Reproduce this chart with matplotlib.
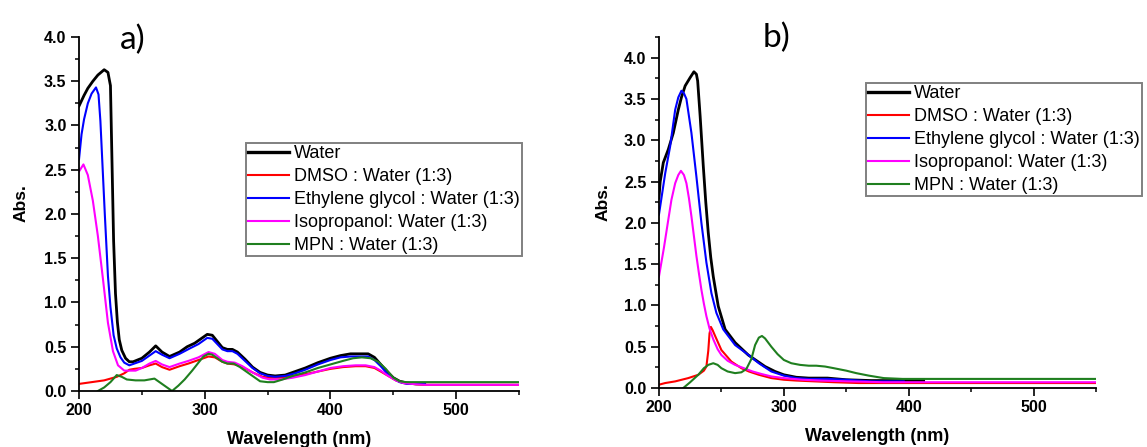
import matplotlib
matplotlib.use("Agg")
import matplotlib.pyplot as plt
from matplotlib.ticker import MultipleLocator, FormatStrFormatter

plt.rcParams['font.family'] = ['Liberation Sans', 'DejaVu Sans']

labels = ["Water", "DMSO : Water (1:3)", "Ethylene glycol : Water (1:3)",
          "Isopropanol: Water (1:3)", "MPN : Water (1:3)"]
colors = ["#000000", "#ff0000", "#0000ff", "#ff00ff", "#1f7f1f"]

# ---- panel a) spectra ----
a_water_wl = [200, 204, 207, 211, 215, 220, 223, 225, 226, 227.5, 229, 230.5, 232, 234, 237, 240,
              243, 250, 256, 261, 266, 272, 280, 286, 292, 297, 302, 306, 310, 314, 318, 322,
              326, 332, 338, 344, 350, 356, 364, 372, 380, 390, 400, 408, 416, 424, 430, 435,
              440, 445, 450, 455, 461, 468, 475]
a_water = [3.22, 3.34, 3.42, 3.5, 3.57, 3.63, 3.6, 3.45, 2.75, 1.7, 1.1, 0.78, 0.58, 0.46, 0.37, 0.33,
           0.33, 0.37, 0.44, 0.51, 0.44, 0.39, 0.44, 0.5, 0.54, 0.59, 0.64, 0.63, 0.56, 0.49, 0.47, 0.47,
           0.44, 0.36, 0.27, 0.21, 0.18, 0.17, 0.18, 0.22, 0.26, 0.32, 0.37, 0.4, 0.42, 0.42, 0.42, 0.38,
           0.3, 0.22, 0.15, 0.11, 0.09, 0.08, 0.08]

a_dmso_wl = [200, 210, 220, 230, 236, 240, 244, 250, 256, 261, 266, 272, 280, 287, 295,
             303, 308, 314, 318, 324, 330, 338, 346, 352, 360, 370, 380, 390, 400, 410,
             420, 428, 435, 440, 446, 452, 458, 465, 475, 490, 510, 530, 550]
a_dmso = [0.08, 0.1, 0.12, 0.16, 0.2, 0.24, 0.25, 0.26, 0.29, 0.31, 0.27, 0.24, 0.28, 0.31, 0.35,
          0.39, 0.38, 0.33, 0.31, 0.3, 0.27, 0.21, 0.16, 0.15, 0.15, 0.17, 0.19, 0.22, 0.25, 0.27,
          0.28, 0.28, 0.26, 0.22, 0.17, 0.12, 0.09, 0.08, 0.07, 0.07, 0.07, 0.07, 0.07]

a_eg_wl = [200, 202, 204, 207, 210, 213.5, 215.5, 217, 218.5, 220.5, 223, 225, 227.5, 230, 233,
           236, 240, 250, 256, 261, 266, 272, 280, 288, 295, 302, 306, 310, 314, 318, 322, 326,
           332, 338, 344, 350, 356, 364, 372, 380, 390, 400, 408, 416, 424, 430, 435, 440, 445,
           450, 455, 461, 468, 475]
a_eg = [2.62, 2.9, 3.07, 3.25, 3.36, 3.43, 3.35, 3.05, 2.6, 2.0, 1.3, 0.95, 0.63, 0.48, 0.38,
        0.32, 0.29, 0.34, 0.4, 0.45, 0.41, 0.37, 0.42, 0.48, 0.53, 0.6, 0.59, 0.53, 0.47, 0.45, 0.45, 0.42,
        0.34, 0.26, 0.2, 0.17, 0.16, 0.17, 0.2, 0.24, 0.3, 0.35, 0.38, 0.39, 0.39, 0.39, 0.35, 0.28, 0.2,
        0.14, 0.1, 0.08, 0.08, 0.08]

a_ipa_wl = [200, 203.5, 207, 211, 215, 219, 223, 227, 231, 236, 240, 245, 250,
            256, 261, 266, 272, 280, 287, 295, 303, 308, 314, 318, 324, 330, 338, 346, 352,
            360, 370, 380, 390, 400, 410, 420, 428, 435, 440, 446, 452, 458, 465, 475, 490,
            510, 530, 550]
a_ipa = [2.48, 2.56, 2.44, 2.15, 1.75, 1.27, 0.77, 0.45, 0.29, 0.23, 0.23, 0.23, 0.26,
         0.31, 0.34, 0.3, 0.27, 0.31, 0.34, 0.38, 0.44, 0.42, 0.35, 0.33, 0.32, 0.28, 0.21, 0.15, 0.13,
         0.13, 0.15, 0.18, 0.22, 0.26, 0.28, 0.29, 0.29, 0.27, 0.23, 0.17, 0.12, 0.09, 0.08, 0.07, 0.07,
         0.07, 0.07, 0.07]

a_mpn_wl = [215, 220, 225, 230, 234, 238, 245, 252, 260, 264, 269, 274, 279, 284, 290, 295,
            299, 303, 306, 310, 314, 318, 323, 328, 335, 344, 350, 355, 362, 370, 380, 390,
            400, 410, 418, 425, 432, 438, 444, 450, 455, 460, 470, 490, 510, 530, 550]
a_mpn = [0.0, 0.04, 0.1, 0.18, 0.16, 0.13, 0.12, 0.12, 0.14, 0.1, 0.05, 0.0, 0.06, 0.13, 0.23, 0.32,
         0.39, 0.42, 0.41, 0.37, 0.33, 0.31, 0.31, 0.27, 0.2, 0.11, 0.1, 0.1, 0.13, 0.17, 0.21, 0.26,
         0.3, 0.34, 0.37, 0.38, 0.37, 0.33, 0.25, 0.15, 0.11, 0.1, 0.1, 0.1, 0.1, 0.1, 0.1]

# ---- panel b) spectra ----
b_water_wl = [200, 201, 203.5, 207.5, 211.5, 215.5, 218, 221, 225, 228, 230, 231, 233, 235.5,
              237.5, 239.5, 241.5, 243.5, 247.5, 253, 261, 271.5, 285, 293, 300, 310, 320, 335,
              350, 370, 390, 412]
b_water = [2.3, 2.5, 2.73, 2.89, 3.09, 3.37, 3.52, 3.66, 3.76, 3.83, 3.8, 3.72, 3.29, 2.69,
           2.25, 1.88, 1.58, 1.35, 0.99, 0.71, 0.55, 0.4, 0.26, 0.2, 0.16, 0.13, 0.12, 0.12,
           0.1, 0.09, 0.09, 0.09]

b_dmso_wl = [200, 205, 213, 223.5, 231.5, 236, 238, 239.5, 240.5, 241.6, 243, 245, 250,
             258, 266, 272, 280, 290, 300, 310, 325, 340, 360, 400, 450, 500, 550]
b_dmso = [0.04, 0.06, 0.08, 0.12, 0.16, 0.21, 0.26, 0.45, 0.66, 0.74, 0.7, 0.63, 0.46,
          0.32, 0.24, 0.2, 0.16, 0.12, 0.1, 0.09, 0.08, 0.07, 0.06, 0.06, 0.06, 0.06, 0.06]

b_eg_wl = [200, 205, 209, 213, 215.5, 218, 220, 222, 226, 230, 234, 238, 242, 246, 251.5,
           261, 270, 280, 290, 300, 310, 320, 335, 350, 370, 385, 396]
b_eg = [2.1, 2.6, 2.93, 3.37, 3.52, 3.6, 3.57, 3.5, 3.09, 2.56, 2.0, 1.52, 1.15, 0.91, 0.71,
        0.52, 0.42, 0.3, 0.2, 0.15, 0.12, 0.11, 0.11, 0.1, 0.08, 0.08, 0.08]

b_ipa_wl = [200, 204, 207.5, 210, 213, 215.5, 217.6, 220, 222, 224, 226, 228, 230, 232, 234,
            236, 238, 240.5, 243.5, 247, 250, 255, 261, 268, 275, 282, 290, 300, 315, 330,
            353, 380, 420, 480, 550]
b_ipa = [1.35, 1.7, 2.04, 2.28, 2.48, 2.58, 2.63, 2.58, 2.48, 2.3, 2.08, 1.84, 1.6, 1.39, 1.19,
         1.02, 0.87, 0.72, 0.59, 0.47, 0.4, 0.33, 0.28, 0.24, 0.2, 0.17, 0.14, 0.12, 0.1, 0.09,
         0.08, 0.07, 0.07, 0.07, 0.07]

b_mpn_wl = [219.5, 225, 231.5, 236, 239.5, 243.5, 247, 250, 255, 261, 266, 270, 274, 277,
            280, 282.5, 285, 290, 295, 300, 306, 313, 320, 326, 333, 340, 350, 358, 368, 380,
            395, 410, 450, 500, 550]
b_mpn = [0.0, 0.07, 0.16, 0.24, 0.28, 0.3, 0.28, 0.24, 0.2, 0.18, 0.19, 0.23, 0.35, 0.52,
         0.61, 0.63, 0.6, 0.5, 0.41, 0.34, 0.3, 0.28, 0.27, 0.27, 0.26, 0.24, 0.21, 0.18, 0.15,
         0.12, 0.11, 0.11, 0.11, 0.11, 0.11]

panel_a = [(a_water_wl, a_water), (a_dmso_wl, a_dmso), (a_eg_wl, a_eg),
           (a_ipa_wl, a_ipa), (a_mpn_wl, a_mpn)]
panel_b = [(b_water_wl, b_water), (b_dmso_wl, b_dmso), (b_eg_wl, b_eg),
           (b_ipa_wl, b_ipa), (b_mpn_wl, b_mpn)]

fig = plt.figure(figsize=(11.47, 4.47), dpi=100)
ax1 = fig.add_axes([0.0689, 0.1253, 0.3836, 0.792])
ax2 = fig.add_axes([0.5745, 0.132, 0.381, 0.785])


def style_axes(ax, ytop, ylab_x):
    for s in ["top", "right"]:
        ax.spines[s].set_visible(False)
    for s in ["left", "bottom"]:
        ax.spines[s].set_linewidth(1.3)
    ax.set_xlim(200, 550)
    ax.set_ylim(0, ytop)
    ax.xaxis.set_major_locator(MultipleLocator(100))
    ax.xaxis.set_minor_locator(MultipleLocator(50))
    ax.yaxis.set_major_locator(MultipleLocator(0.5))
    ax.yaxis.set_minor_locator(MultipleLocator(0.25))
    ax.yaxis.set_major_formatter(FormatStrFormatter('%.1f'))
    ax.tick_params(which="major", length=6, width=1.2, labelsize=11.5, pad=3)
    ax.tick_params(which="minor", length=3, width=1.1)
    for t in ax.get_xticklabels() + ax.get_yticklabels():
        t.set_fontweight("bold")
    ax.set_xlabel("Wavelength (nm)", fontsize=13, fontweight="bold", labelpad=9)
    ax.set_ylabel("Abs.", fontsize=12.5, fontweight="bold")
    ax.yaxis.set_label_coords(ylab_x, 0.53)


for ax, data, ytop, anchor, ylab_x in [(ax1, panel_a, 4.0, (0.38, 0.70), -0.115),
                                       (ax2, panel_b, 4.25, (0.474, 0.869), -0.11)]:
    for (wl, ab), lab, col in zip(data, labels, colors):
        ax.plot(wl, ab, color=col, lw=2.0 if col == "#000000" else 1.5, label=lab)
    style_axes(ax, ytop, ylab_x)
    leg = ax.legend(loc="upper left", bbox_to_anchor=anchor, borderaxespad=0,
                    fontsize=13, frameon=True, fancybox=False, framealpha=1,
                    handlelength=2.25, handletextpad=0.28, labelspacing=0.33,
                    borderpad=0.12)
    leg.get_frame().set_edgecolor("#808080")
    leg.get_frame().set_linewidth(1.4)
    leg.get_lines()[0].set_linewidth(2.4)

fig.text(0.116, 0.91, "a)", fontsize=24, family="Lato", ha="center", va="center")
fig.text(0.677, 0.915, "b)", fontsize=24, family="Lato", ha="center", va="center")

fig.savefig("out.png", dpi=100)
